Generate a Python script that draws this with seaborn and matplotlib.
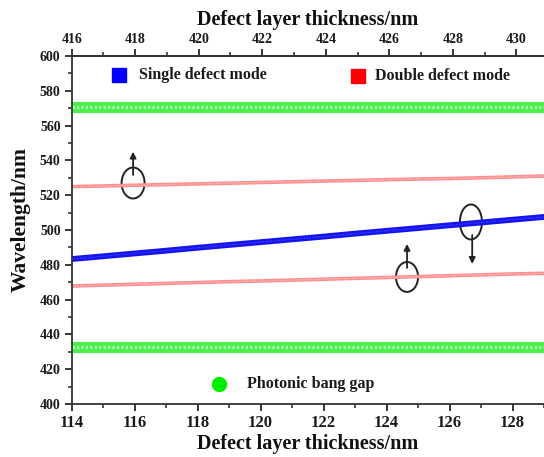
import matplotlib
matplotlib.use("Agg")
import matplotlib.pyplot as plt
import seaborn as sns
import pandas as pd
from matplotlib.patches import Ellipse

# ---- data ----
thickness = [114, 115, 116, 117, 118, 119, 120, 121, 122, 123, 124, 125, 126, 127, 128, 129]
single_mode = [483.3, 484.9, 486.5, 488.1, 489.8, 491.4, 493.0, 494.6, 496.2, 497.9, 499.5, 501.1, 502.7, 504.3, 505.9, 507.5]
double_upper = [524.9, 525.3, 525.7, 526.1, 526.5, 526.9, 527.3, 527.7, 528.1, 528.5, 528.9, 529.3, 529.6, 530.0, 530.5, 531.0]
double_lower = [467.8, 468.3, 468.8, 469.3, 469.8, 470.3, 470.7, 471.2, 471.7, 472.2, 472.7, 473.2, 473.7, 474.2, 474.7, 475.1]
gap_upper = [570.7] * 16
gap_lower = [432.7] * 16

x_ticks = [114, 116, 118, 120, 122, 124, 126, 128]
top_ticks = [416, 418, 420, 422, 424, 426, 428, 430]
y_ticks = [400, 420, 440, 460, 480, 500, 520, 540, 560, 580, 600]

df = pd.DataFrame({"x": thickness, "single": single_mode, "du": double_upper,
                   "dl": double_lower, "gu": gap_upper, "gl": gap_lower})

sns.set_style("ticks")
plt.rcParams["font.family"] = ["Liberation Serif", "DejaVu Serif"]
plt.rcParams["font.weight"] = "bold"

fig = plt.figure(figsize=(5.44, 4.57), dpi=100)
ax = fig.add_axes([0.1318, 0.116, 0.8682, 0.7615])

green = "#4cf04c"
# photonic band gap edges
for col in ["gu", "gl"]:
    sns.lineplot(data=df, x="x", y=col, ax=ax, color=green, linewidth=8, solid_capstyle="butt")
    sns.lineplot(data=df, x="x", y=col, ax=ax, color="#c8ffc8", linewidth=2.0,
                 linestyle=(0, (0.8, 0.8)), alpha=0.9)
# double defect modes
for col in ["du", "dl"]:
    sns.lineplot(data=df, x="x", y=col, ax=ax, color="#ff8c8c", linewidth=2.6)
    sns.lineplot(data=df, x="x", y=col, ax=ax, color="white", linewidth=0.8,
                 linestyle=(0, (1, 1.5)), alpha=0.7)
# single defect mode
sns.lineplot(data=df, x="x", y="single", ax=ax, color="#1414f0", linewidth=4.2)
sns.lineplot(data=df, x="x", y="single", ax=ax, color="#7070ff", linewidth=0.8,
             linestyle=(0, (1, 1.5)), alpha=0.7)

ax.set_xlim(114, 129.0)
ax.set_ylim(400, 600)
ax.set_xticks(x_ticks)
ax.set_yticks(y_ticks)
ax.set_xticks([t + 1 for t in x_ticks], minor=True)
ax.set_yticks([t + 10 for t in y_ticks[:-1]], minor=True)
ax.tick_params(axis="both", which="major", direction="out", length=5, width=1.3,
               labelsize=10, pad=3, labelcolor="#1a1a1a")
ax.tick_params(axis="both", which="minor", direction="out", length=3, width=1.1)
for lab in ax.get_xticklabels():
    lab.set_fontsize(12)
for lab in ax.get_yticklabels():
    lab.set_fontsize(10)
ax.set_xlabel("Defect layer thickness/nm", fontsize=14.5, fontweight="bold", labelpad=2,
              color="#111111")
ax.set_ylabel("Wavelength/nm", fontsize=15.5, fontweight="bold", labelpad=5,
              color="#111111")
ax.yaxis.set_label_coords(-0.087, 0.53)

for s in ["left", "bottom", "top"]:
    ax.spines[s].set_linewidth(1.3)
    ax.spines[s].set_color("#333333")
ax.spines["right"].set_visible(False)

# top axis
top = ax.secondary_xaxis("top", functions=(lambda v: 416 + (v - 114) * 0.9915,
                                           lambda v: 114 + (v - 416) / 0.9915))
top.set_xticks(top_ticks)
top.set_xticks([t + 1 for t in top_ticks], minor=True)
top.tick_params(which="major", direction="out", length=5, width=1.3, labelsize=10, pad=2,
                labelcolor="#1a1a1a")
top.tick_params(which="minor", direction="out", length=3, width=1.1)
top.set_xlabel("Defect layer thickness/nm", fontsize=14.5, fontweight="bold", labelpad=6,
               color="#111111")
top.spines["top"].set_linewidth(1.3)

# legend-like entries
ax.plot([0.1], [0.945], transform=ax.transAxes, marker="s", markersize=10,
        color="#0000ff", linestyle="none")
ax.text(0.142, 0.945, "Single defect mode", transform=ax.transAxes, fontsize=11.5,
        fontweight="bold", va="center", ha="left", color="#1a1a1a")
ax.plot([0.606], [0.942], transform=ax.transAxes, marker="s", markersize=10,
        color="#ff0000", linestyle="none")
ax.text(0.642, 0.942, "Double defect mode", transform=ax.transAxes, fontsize=11.5,
        fontweight="bold", va="center", ha="left", color="#1a1a1a")
ax.plot([0.312], [0.058], transform=ax.transAxes, marker="o", markersize=10,
        color="#00ee00", linestyle="none")
ax.text(0.372, 0.058, "Photonic bang gap", transform=ax.transAxes, fontsize=11.5,
        fontweight="bold", va="center", ha="left", color="#1a1a1a")

# ellipses with arrows
ell = [(115.95, 527.0, 0.73, 17.8), (126.68, 504.6, 0.70, 20.1), (124.65, 473.0, 0.70, 17.2)]
for cx, cy, w, h in ell:
    ax.add_patch(Ellipse((cx, cy), w, h, fill=False, edgecolor="#222222", linewidth=1.4))
arrows = [((115.95, 531.6), (115.95, 545.0)),
          ((126.72, 497.1), (126.72, 480.5)),
          ((124.65, 478.2), (124.65, 492.0))]
for (x0, y0), (x1, y1) in arrows:
    ax.annotate("", xy=(x1, y1), xytext=(x0, y0),
                arrowprops=dict(arrowstyle="-|>", color="#222222", lw=1.3,
                                mutation_scale=9, shrinkA=0, shrinkB=0))

fig.savefig("out.png", dpi=100)
